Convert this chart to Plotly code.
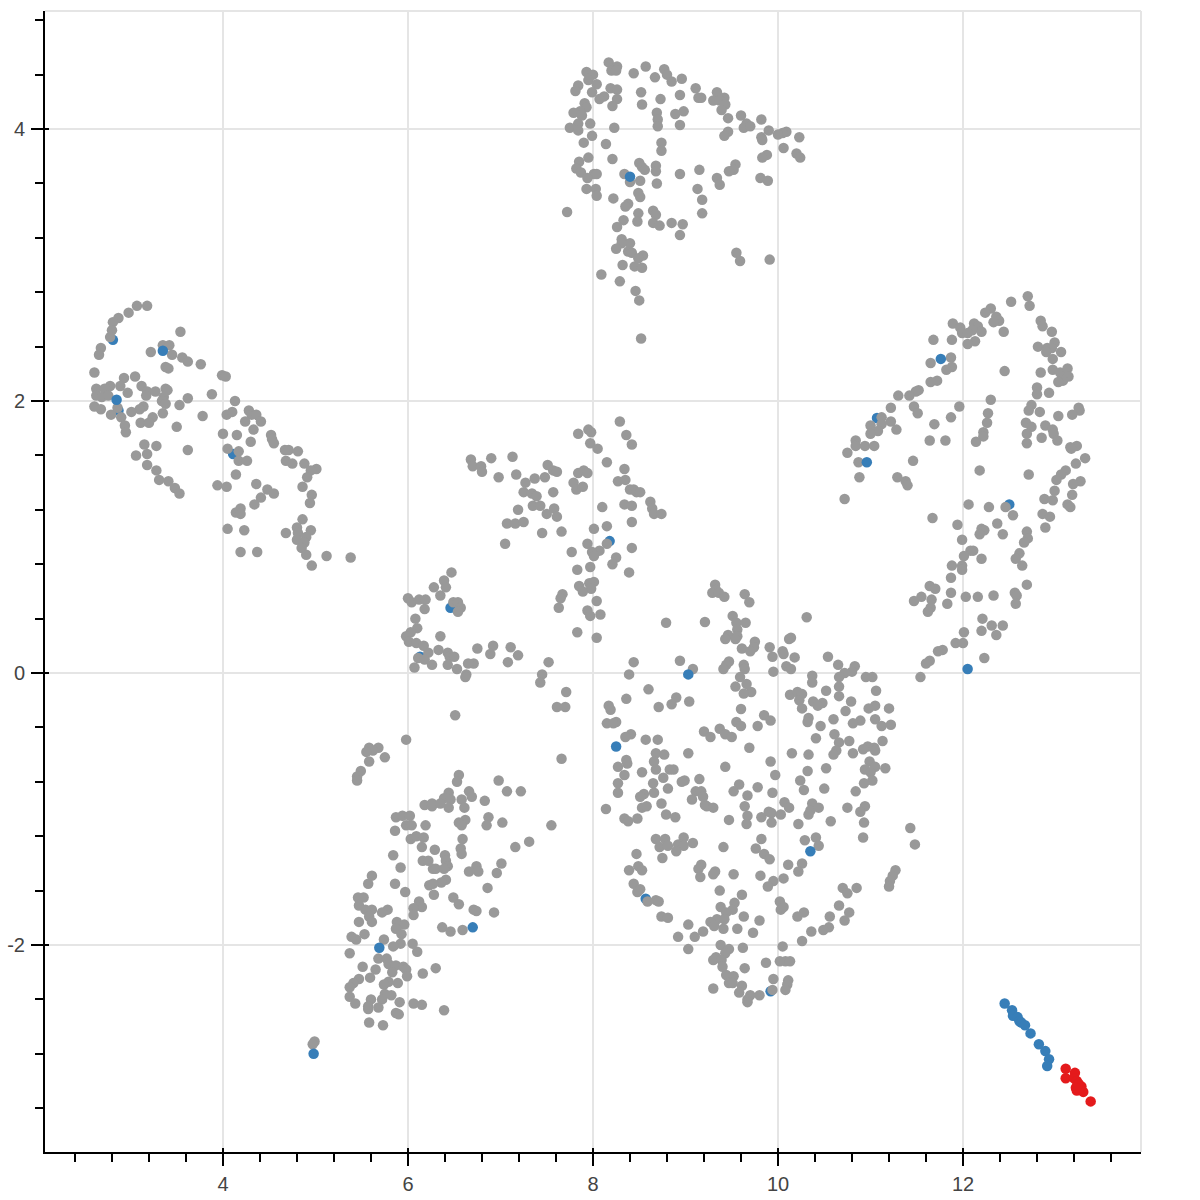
import plotly.graph_objects as go

# grey points per cluster, (x, y)
upper_left = [
    (3.07,2.70),(3.18,2.70),(2.98,2.65),(2.87,2.61),(2.81,2.58),(2.80,2.52),(2.78,2.47),(2.68,2.39),(2.66,2.34),(2.61,2.21),
    (3.54,2.51),(3.35,2.41),(3.42,2.41),(3.22,2.36),(3.45,2.34),(3.56,2.32),(3.62,2.29),(3.76,2.27),(3.38,2.25),(3.41,2.24),
    (3.99,2.19),(4.03,2.18),(3.05,2.18),(2.93,2.17),(2.78,2.11),(2.89,2.11),(2.63,2.09),(2.72,2.09),(3.12,2.11),(3.18,2.07),
    (2.97,2.06),(3.27,2.07),(3.38,2.09),(3.40,2.08),(2.63,2.04),(2.69,2.03),(2.76,2.04),(3.17,2.04),(3.36,2.03),(3.88,2.05),
    (3.62,2.02),(4.13,2.00),(3.34,2.00),(3.38,1.98),(3.53,1.97),(2.61,1.96),(2.68,1.94),(2.86,1.95),(3.14,1.96),(3.10,1.94),
    (3.01,1.92),(3.35,1.91),(2.79,1.90),(2.90,1.88),(3.24,1.88),(3.78,1.89),(4.04,1.90),(4.10,1.92),(4.28,1.93),(4.31,1.90),
    (4.36,1.90),(4.41,1.85),(4.24,1.85),(3.11,1.84),(3.20,1.84),(2.94,1.82),(3.50,1.81),(4.33,1.79),(2.95,1.77),(4.00,1.76),
    (4.15,1.75),(4.52,1.75),(4.53,1.72),(4.55,1.69),(4.30,1.70),(3.15,1.68),(3.28,1.67),(3.62,1.64),(4.05,1.65),(4.17,1.63),
    (4.67,1.64),(4.71,1.64),(4.81,1.63),(3.06,1.60),(3.18,1.61),(4.17,1.56),(4.26,1.56),(4.68,1.56),(4.75,1.54),(4.88,1.54),
    (5.01,1.50),(4.95,1.49),(3.18,1.53),(3.28,1.49),(4.14,1.46),(4.91,1.44),(3.31,1.42),(3.41,1.41),(3.48,1.36),(3.53,1.32),
    (3.94,1.38),(4.04,1.37),(4.36,1.39),(4.48,1.35),(4.55,1.32),(4.86,1.37),(4.96,1.31),(4.94,1.25),(4.41,1.29),(4.34,1.24),
    (4.19,1.21),(4.14,1.18),(4.19,1.17),(4.86,1.13),(4.80,1.07),(4.68,1.03),(4.95,1.05),(4.81,1.03),(4.05,1.06),(4.23,1.05),
    (4.90,1.00),(4.80,0.98),(4.88,0.96),(4.85,0.92),(4.19,0.89),(4.37,0.89),(4.90,0.87),(5.12,0.86),(5.38,0.85),(4.96,0.79),
]
top_cluster = [
    (8.17,4.49),(8.26,4.46),(8.20,4.43),(8.25,4.43),(7.93,4.42),(8.00,4.40),(7.95,4.36),(8.44,4.41),(8.57,4.46),(8.67,4.38),
    (8.77,4.44),(8.80,4.40),(8.85,4.35),(8.96,4.37),(7.84,4.32),(7.81,4.28),(8.04,4.33),(7.99,4.27),(8.19,4.30),(8.26,4.29),
    (8.52,4.27),(8.94,4.25),(9.11,4.30),(9.14,4.23),(9.17,4.23),(9.34,4.27),(9.42,4.23),(9.30,4.21),(9.37,4.21),(8.12,4.24),
    (8.07,4.22),(8.26,4.22),(8.73,4.22),(7.91,4.19),(7.93,4.16),(8.21,4.17),(8.53,4.18),(9.43,4.18),(9.39,4.14),(7.86,4.13),
    (7.79,4.12),(7.88,4.10),(8.69,4.12),(8.89,4.11),(8.98,4.13),(9.60,4.10),(9.46,4.08),(9.82,4.07),(8.70,4.07),(7.97,4.04),
    (7.84,4.04),(7.75,4.01),(7.84,3.99),(8.23,4.01),(8.70,4.02),(8.94,4.03),(9.66,4.04),(9.63,4.01),(9.70,4.02),(9.90,3.99),
    (9.46,3.98),(9.42,3.95),(10.09,3.98),(10.05,3.97),(10.00,3.96),(10.23,3.94),(9.82,3.94),(9.83,3.92),(7.99,3.95),(7.90,3.90),
    (8.14,3.89),(8.74,3.90),(8.74,3.84),(10.06,3.86),(10.20,3.82),(10.24,3.79),(9.88,3.81),(9.83,3.79),(7.95,3.79),(8.21,3.78),
    (7.85,3.76),(8.50,3.75),(8.53,3.72),(8.56,3.70),(8.68,3.73),(8.68,3.69),(9.54,3.74),(9.52,3.70),(9.47,3.69),(9.15,3.70),
    (8.94,3.67),(7.82,3.71),(7.87,3.68),(8.01,3.67),(8.04,3.67),(7.94,3.64),(8.34,3.67),(8.40,3.61),(8.51,3.62),(8.69,3.60),
    (9.34,3.64),(9.37,3.59),(9.81,3.64),(9.89,3.62),(9.13,3.56),(7.93,3.56),(8.03,3.56),(8.04,3.51),(8.49,3.53),(8.51,3.50),
    (8.22,3.49),(9.18,3.48),(8.38,3.45),(8.35,3.43),(7.72,3.39),(8.65,3.40),(8.68,3.37),(8.49,3.38),(9.18,3.38),(8.33,3.33),
    (8.48,3.32),(8.65,3.31),(8.72,3.29),(8.85,3.31),(8.97,3.30),(8.26,3.28),(8.94,3.22),(8.31,3.19),(8.40,3.16),(8.31,3.16),
    (8.25,3.12),(8.38,3.10),(8.42,3.09),(8.54,3.07),(8.49,3.05),(9.55,3.09),(9.59,3.03),(9.91,3.04),(8.32,3.00),(8.45,2.99),
    (8.53,2.98),(8.09,2.93),(8.29,2.88),(8.46,2.81),(8.50,2.74),(8.52,2.46),
]
right_arc = [
    (12.70,2.77),(12.72,2.70),(12.52,2.73),(12.30,2.68),(12.24,2.65),(12.36,2.62),(12.39,2.59),(12.33,2.58),(12.84,2.59),(12.86,2.55),
    (11.89,2.57),(11.97,2.54),(12.12,2.57),(12.16,2.55),(12.10,2.52),(12.20,2.51),(12.44,2.51),(12.96,2.51),(11.99,2.50),(12.05,2.50),
    (11.68,2.45),(11.88,2.45),(12.13,2.44),(12.05,2.42),(12.99,2.43),(12.81,2.40),(12.91,2.39),(12.96,2.39),(13.06,2.36),(12.90,2.36),
    (12.97,2.31),(11.87,2.32),(11.65,2.28),(11.88,2.25),(11.82,2.23),(12.45,2.22),(12.84,2.21),(12.97,2.23),(13.05,2.21),(13.13,2.24),
    (13.14,2.18),(13.08,2.15),(13.03,2.14),(11.72,2.15),(11.65,2.14),(12.80,2.10),(12.80,2.05),(12.93,2.06),(11.52,2.08),(11.49,2.07),
    (11.42,2.04),(11.30,2.04),(12.30,2.01),(12.74,1.97),(12.71,1.93),(12.83,1.92),(13.25,1.95),(13.26,1.93),(13.18,1.90),(13.03,1.89),
    (11.47,1.96),(11.51,1.91),(11.22,1.95),(11.96,1.96),(12.27,1.91),(11.87,1.88),(12.26,1.84),(12.68,1.84),(12.89,1.82),(12.74,1.81),
    (11.69,1.83),(11.12,1.88),(11.22,1.85),(11.00,1.82),(11.12,1.83),(12.97,1.79),(11.28,1.79),(11.08,1.78),(11.00,1.76),(12.22,1.77),
    (12.69,1.76),(12.98,1.76),(12.85,1.73),(12.22,1.74),(10.84,1.71),(13.02,1.71),(11.64,1.71),(11.81,1.71),(12.14,1.70),(12.69,1.69),
    (10.84,1.67),(10.94,1.67),(11.04,1.67),(13.23,1.67),(13.16,1.66),(13.17,1.65),(10.75,1.62),(10.87,1.55),(11.46,1.56),(13.32,1.58),
    (13.22,1.54),(10.88,1.44),(11.29,1.44),(11.38,1.41),(11.40,1.38),(12.18,1.49),(12.71,1.46),(13.11,1.49),(13.06,1.46),(13.01,1.42),
    (13.27,1.41),(13.19,1.39),(12.99,1.34),(13.18,1.31),(10.72,1.28),(12.88,1.28),(12.97,1.27),
    (12.06,1.24),(12.28,1.22),(12.46,1.22),(12.54,1.16),(11.67,1.14),(11.94,1.09),(12.37,1.10),(12.86,1.17),(12.94,1.15),(12.89,1.07),
    (13.13,1.24),(13.16,1.22),(12.20,1.06),(12.23,1.05),(12.18,1.02),(12.43,1.02),(12.69,1.04),(12.70,0.99),(12.66,0.96),(11.99,0.98),
    (12.61,0.88),(12.57,0.84),(12.08,0.90),(12.11,0.90),(12.01,0.86),(12.20,0.84),(11.99,0.79),(11.99,0.76),(11.88,0.79),(12.64,0.79),
    (11.87,0.70),(12.69,0.65),(11.64,0.64),(11.70,0.62),(11.87,0.59),(12.56,0.59),(12.58,0.57),(11.55,0.56),(12.03,0.56),(12.16,0.56),
    (12.33,0.57),(11.66,0.54),(11.47,0.53),(11.83,0.51),(12.57,0.51),(11.65,0.48),(11.62,0.45),(12.21,0.40),(12.31,0.35),(12.43,0.35),
    (12.20,0.31),(12.01,0.30),(12.36,0.28),(11.92,0.22),(12.00,0.22),(11.78,0.17),(11.73,0.16),(12.23,0.11),(11.64,0.09),(11.60,0.07),
    (11.54,-0.03),
]
middle = [
    (8.29,1.85),(7.84,1.76),(7.95,1.79),(7.98,1.77),(8.36,1.75),(8.42,1.68),(7.97,1.69),(8.05,1.65),(8.15,1.55),(6.68,1.57),
    (6.70,1.52),(6.90,1.58),(7.13,1.59),(6.79,1.52),(6.80,1.48),(7.51,1.53),(7.57,1.49),(7.61,1.48),(6.98,1.44),(7.17,1.46),
    (7.37,1.43),(7.48,1.44),(7.84,1.47),(7.90,1.49),(7.94,1.47),(8.34,1.50),(8.27,1.41),(8.35,1.42),(7.27,1.40),(7.79,1.40),
    (8.40,1.35),(8.44,1.35),(8.47,1.33),(8.51,1.33),(7.82,1.35),(7.89,1.37),(7.25,1.33),(7.34,1.32),(7.39,1.30),(7.57,1.33),
    (8.62,1.26),(7.35,1.23),(7.43,1.23),(7.58,1.21),(8.10,1.22),(8.34,1.24),(8.42,1.23),(8.64,1.21),(8.66,1.17),(8.74,1.17),
    (7.19,1.20),(7.50,1.17),(7.61,1.15),(7.07,1.10),(7.16,1.10),(7.25,1.11),(8.42,1.11),(8.15,1.08),(8.01,1.06),(7.45,1.03),
    (7.66,1.04),(7.05,0.95),(7.94,0.95),(8.15,0.95),(8.42,0.92),(8.07,0.90),(7.77,0.89),(7.99,0.89),(8.01,0.86),(8.25,0.85),
    (8.21,0.80),(7.97,0.78),(7.83,0.76),(8.39,0.74),(6.47,0.74),(6.39,0.68),(8.01,0.67),(7.96,0.66),(6.28,0.63),(6.41,0.63),
    (7.85,0.64),(7.98,0.62),(7.89,0.60),(7.67,0.58),(7.65,0.55),(6.35,0.57),(6.00,0.55),(6.04,0.52),(6.12,0.54),(6.19,0.54),
    (8.04,0.53),(6.49,0.52),(6.54,0.52),(6.57,0.48),(6.54,0.45),(6.18,0.47),(7.63,0.48),(7.94,0.46),(7.97,0.42),(8.08,0.43),
    (6.08,0.40),(8.79,0.37),(6.10,0.33),(6.03,0.30),(7.83,0.30),(5.98,0.27),(6.35,0.27),(8.04,0.26),(6.01,0.23),(6.09,0.22),
    (6.17,0.20),(6.22,0.15),(6.75,0.18),(6.92,0.20),(7.11,0.19),(6.33,0.17),(6.43,0.15),(6.89,0.14),(7.19,0.13),(6.11,0.11),
    (6.18,0.10),(6.45,0.12),(6.50,0.12),(7.52,0.08),(7.08,0.08),(6.71,0.07),(6.65,0.07),(8.44,0.08),(8.94,0.09),(6.07,0.04),
    (6.26,0.06),(6.43,0.06),(6.53,0.03),(7.45,-0.01),(8.39,-0.01),(6.63,-0.01),(6.62,-0.03),(7.43,-0.07),(7.71,-0.14),(8.60,-0.12),
    (8.36,-0.19),(8.90,-0.18),(8.85,-0.23),(8.71,-0.25),(8.17,-0.24),(7.61,-0.25),(7.70,-0.25),(9.04,-0.21),(6.51,-0.31),(7.66,-0.63),
]
lower_centre = [
    (9.32,0.65),(9.33,0.61),(9.29,0.59),(9.36,0.59),(9.42,0.56),(9.64,0.58),(9.69,0.52),(9.51,0.42),(9.55,0.37),(9.65,0.37),
    (9.21,0.375),(10.31,0.41),(9.56,0.32),(9.46,0.28),(9.56,0.27),(9.43,0.25),(9.54,0.25),(9.75,0.23),(10.12,0.25),(10.14,0.26),
    (9.91,0.19),(9.61,0.18),(9.74,0.19),(9.70,0.16),(10.05,0.16),(10.06,0.14),(9.94,0.12),(10.18,0.115),(10.54,0.12),(10.65,0.06),
    (9.47,0.085),(9.44,0.06),(9.41,0.03),(9.63,0.06),(9.64,0.03),(10.09,0.05),(10.14,0.03),(10.83,0.05),(9.08,0.03),(9.95,0.01),
    (10.80,0.01),(10.72,0.00),(10.66,-0.03),(10.37,-0.02),(10.95,-0.03),(11.02,-0.03),(9.59,-0.03),(9.66,-0.08),(10.37,-0.07),(9.54,-0.10),
    (10.66,-0.10),(10.52,-0.13),(11.06,-0.13),(9.71,-0.14),(9.63,-0.15),(10.13,-0.16),(10.21,-0.14),(10.26,-0.155),(10.66,-0.17),(10.23,-0.20),
    (10.79,-0.21),(10.38,-0.21),(10.48,-0.22),(10.43,-0.24),(8.19,-0.27),(9.60,-0.265),(10.26,-0.26),(11.05,-0.24),(10.98,-0.26),(11.20,-0.26),
    (10.73,-0.28),(9.85,-0.31),(10.33,-0.33),(10.60,-0.34),(11.05,-0.34),(8.25,-0.36),(8.15,-0.37),(8.22,-0.37),(9.92,-0.35),(10.32,-0.36),
    (9.55,-0.36),(9.60,-0.39),(9.78,-0.39),(10.46,-0.39),(10.89,-0.35),(10.81,-0.37),(11.12,-0.39),(11.22,-0.38),(9.37,-0.41),(9.20,-0.43),
    (9.27,-0.47),(9.43,-0.45),(9.50,-0.47),(8.41,-0.45),(8.35,-0.47),(10.61,-0.45),(10.41,-0.48),(8.57,-0.49),(8.70,-0.49),(10.66,-0.51),
    (10.77,-0.50),(11.13,-0.50),(9.69,-0.55),(10.97,-0.54),(10.92,-0.56),(11.04,-0.55),(11.05,-0.57),(10.63,-0.57),(10.60,-0.60),(10.81,-0.59),
    (8.68,-0.59),(8.77,-0.60),(9.03,-0.59),(10.15,-0.59),(10.33,-0.60),(8.36,-0.64),(8.66,-0.65),(9.92,-0.65),(10.99,-0.65),(8.37,-0.665),
    (8.27,-0.69),(8.68,-0.71),(8.83,-0.71),(8.87,-0.71),(9.43,-0.69),(10.52,-0.70),(11.05,-0.69),(11.16,-0.70),(10.94,-0.71),(10.32,-0.72),
    (11.00,-0.73),(8.34,-0.75),(8.53,-0.73),(9.97,-0.75),(8.76,-0.77),(9.15,-0.78),(8.99,-0.79),(8.96,-0.80),(10.24,-0.79),(11.02,-0.79),
    (10.93,-0.81),(8.27,-0.81),(8.65,-0.81),(9.58,-0.82),(9.78,-0.84),(8.81,-0.85),(10.28,-0.86),(10.50,-0.85),(10.84,-0.87),(8.27,-0.88),
    (8.66,-0.88),(9.11,-0.87),(9.17,-0.87),(9.52,-0.87),(9.94,-0.88),(9.67,-0.90),(8.55,-0.89),(8.51,-0.91),(9.19,-0.91),(9.07,-0.93),
    (8.14,-1.00),(8.53,-0.99),(8.58,-0.98),(8.74,-0.96),(9.21,-0.97),(9.23,-0.98),(9.30,-0.99),(9.64,-0.98),(10.07,-0.95),(10.12,-0.99),
    (10.37,-0.96),(10.35,-1.01),(10.44,-0.99),(10.75,-0.99),(10.94,-0.98),(10.89,-1.02),(8.34,-1.07),(8.38,-1.09),(8.48,-1.07),(8.79,-1.04),
    (8.89,-1.06),(9.67,-1.05),(9.47,-1.08),(9.82,-1.06),(9.90,-1.02),(9.93,-1.03),(10.03,-1.04),(10.33,-1.04),(9.93,-1.10),(10.22,-1.11),
    (10.57,-1.09),(10.93,-1.10),(9.66,-1.11),(11.43,-1.14),(11.48,-1.26),(8.98,-1.21),(8.68,-1.22),(8.78,-1.22),(9.08,-1.25),(9.82,-1.22),
    (10.41,-1.21),(10.29,-1.23),(10.92,-1.21),(8.72,-1.28),(8.81,-1.27),(8.92,-1.26),(8.98,-1.27),(8.90,-1.31),(9.41,-1.28),(10.44,-1.27),
    (9.76,-1.29),(9.85,-1.33),(8.47,-1.33),(8.75,-1.36),(9.91,-1.37),(9.17,-1.41),(10.11,-1.41),(10.26,-1.40),(8.49,-1.42),(8.53,-1.45),
    (9.14,-1.44),(8.39,-1.45),(9.32,-1.46),(9.30,-1.48),(10.22,-1.46),(11.27,-1.45),(9.52,-1.48),(9.81,-1.49),(9.16,-1.50),(11.24,-1.49),
    (10.06,-1.51),(9.95,-1.53),(11.21,-1.53),(9.89,-1.57),(11.20,-1.57),(8.44,-1.55),(8.51,-1.59),(10.70,-1.58),(10.85,-1.58),(9.37,-1.60),
    (8.48,-1.61),(10.75,-1.62),(9.61,-1.63),(8.59,-1.68),(8.68,-1.67),(8.71,-1.68),(9.53,-1.69),(10.02,-1.68),(10.66,-1.71),(9.38,-1.72),
    (10.03,-1.74),(10.06,-1.72),(9.51,-1.74),(10.28,-1.76),(10.77,-1.76),(9.44,-1.76),(10.21,-1.79),(10.56,-1.79),(9.63,-1.79),(8.74,-1.79),
    (8.81,-1.80),(9.34,-1.81),(9.42,-1.81),(9.27,-1.83),(10.72,-1.82),(9.80,-1.82),(9.03,-1.85),(9.31,-1.86),(9.41,-1.88),(9.56,-1.88),
    (10.55,-1.87),(10.49,-1.89),(10.36,-1.90),(9.19,-1.90),(9.73,-1.91),(9.10,-1.94),(8.92,-1.94),(10.26,-1.97),(9.38,-2.00),(10.05,-2.01),
    (9.62,-2.02),(9.03,-2.03),(9.47,-2.03),(9.43,-2.06),(9.33,-2.09),(9.30,-2.11),(9.39,-2.11),(9.87,-2.13),(10.02,-2.12),(10.08,-2.12),
    (10.13,-2.12),(9.40,-2.16),(9.64,-2.17),(9.44,-2.22),(9.52,-2.23),(9.95,-2.25),(10.11,-2.26),(9.47,-2.28),(9.51,-2.28),(10.10,-2.29),
    (9.61,-2.30),(9.30,-2.32),(10.08,-2.33),(9.94,-2.33),(9.58,-2.35),(9.70,-2.37),(9.80,-2.37),(9.67,-2.40),(9.67,-2.42),
]
lower_left = [
    (5.98,-0.49),(5.68,-0.55),(5.58,-0.55),(5.62,-0.57),(5.55,-0.58),(5.75,-0.62),(5.58,-0.65),(5.49,-0.72),(5.45,-0.76),(5.45,-0.79),
    (6.55,-0.75),(6.53,-0.80),(6.98,-0.79),(7.07,-0.87),(7.22,-0.87),(6.66,-0.87),(6.69,-0.91),(6.44,-0.88),(6.39,-0.92),(6.46,-0.93),
    (6.58,-0.93),(6.83,-0.94),(6.18,-0.97),(6.26,-0.98),(6.26,-0.96),(6.35,-0.96),(6.44,-0.99),(6.61,-0.99),(5.87,-1.06),(5.94,-1.05),
    (6.02,-1.05),(6.87,-1.06),(6.62,-1.08),(6.55,-1.10),(6.58,-1.12),(6.85,-1.12),(7.02,-1.10),(7.55,-1.12),(5.98,-1.12),(6.04,-1.12),
    (6.19,-1.12),(5.86,-1.16),(6.03,-1.22),(6.09,-1.20),(6.17,-1.21),(6.59,-1.22),(7.31,-1.24),(6.15,-1.28),(6.29,-1.30),(6.57,-1.29),
    (7.16,-1.28),(6.58,-1.33),(5.84,-1.34),(6.40,-1.34),(6.16,-1.38),(6.22,-1.38),(6.41,-1.38),(7.01,-1.40),(5.92,-1.43),(6.43,-1.42),
    (6.27,-1.44),(6.30,-1.44),(6.39,-1.44),(6.74,-1.42),(6.66,-1.46),(6.76,-1.46),(6.96,-1.47),(5.61,-1.49),(6.41,-1.52),(6.36,-1.54),
    (5.86,-1.55),(5.57,-1.55),(6.27,-1.55),(6.23,-1.56),(6.86,-1.58),(5.97,-1.61),(6.28,-1.63),(6.49,-1.65),(5.46,-1.65),(5.52,-1.65),
    (6.12,-1.68),(6.55,-1.70),(5.47,-1.71),(6.15,-1.72),(5.61,-1.74),(5.54,-1.74),(6.06,-1.73),(6.71,-1.74),(6.74,-1.75),(6.93,-1.76),
    (5.78,-1.74),(5.72,-1.76),(5.58,-1.79),(6.06,-1.78),(5.61,-1.83),(5.47,-1.83),(5.88,-1.83),(5.96,-1.85),(5.87,-1.88),(6.37,-1.87),
    (6.46,-1.90),(6.59,-1.89),(5.93,-1.92),(5.53,-1.92),(5.39,-1.94),(5.44,-1.96),(5.74,-1.96),(5.92,-1.99),(5.84,-2.01),(6.05,-1.99),
    (6.10,-2.05),(5.37,-2.06),(5.68,-2.10),(5.77,-2.10),(5.79,-2.14),(5.87,-2.15),(5.95,-2.16),(5.51,-2.16),(5.65,-2.18),(6.30,-2.17),
    (5.83,-2.20),(5.98,-2.18),(6.16,-2.21),(5.99,-2.23),(5.47,-2.25),(5.59,-2.24),(5.41,-2.28),(5.37,-2.31),(5.79,-2.27),(5.74,-2.29),
    (5.89,-2.28),(5.75,-2.36),(5.82,-2.37),(5.37,-2.38),(5.60,-2.40),(5.72,-2.40),(5.43,-2.43),(5.91,-2.42),(6.06,-2.43),(6.15,-2.44),
    (5.57,-2.45),(5.68,-2.46),(5.57,-2.47),(6.39,-2.48),(5.87,-2.50),(5.90,-2.51),(5.58,-2.57),(5.73,-2.59),(4.99,-2.71),(4.97,-2.73),
]

# blue points partly hidden by grey ones, then the ones drawn on top
blue_under = [
    (2.81,2.45),(2.87,1.93),(4.11,1.61),(11.07,1.875),(12.50,1.24),(6.46,0.48),(6.13,0.12),(8.18,0.97),(8.57,-1.66),(9.92,-2.34),
]
blue_over = [
    (3.35,2.37),(2.85,2.01),(8.40,3.65),(11.76,2.31),(10.96,1.55),(12.05,0.03),(9.03,-0.01),(8.25,-0.54),(10.35,-1.31),
    (4.98,-2.80),(5.69,-2.02),(6.70,-1.87),
    (12.45,-2.43),(12.53,-2.48),(12.54,-2.52),(12.59,-2.53),(12.61,-2.56),(12.63,-2.57),(12.67,-2.59),(12.73,-2.65),(12.82,-2.73),
    (12.89,-2.78),(12.93,-2.84),(12.91,-2.89),
]
red_points = [
    (13.11,-2.91),(13.11,-2.98),(13.21,-2.94),(13.20,-2.98),(13.23,-3.00),(13.28,-3.04),(13.23,-3.07),(13.30,-3.08),(13.26,-3.05),
    (13.38,-3.15),(13.25,-3.02),(13.22,-3.05),
]

x_ticks = [4, 6, 8, 10, 12]
x_labels = ["4", "6", "8", "10", "12"]
y_ticks = [-2, 0, 2, 4]
y_labels = ["-2", "0", "2", "4"]
x_range = [2.076, 13.924]
y_range = [-3.522, 4.868]

GREY = "#999999"
BLUE = "#377eb8"
RED = "#e41a1c"
GRID = "#e5e5e5"


def scatter(points, color):
    xs, ys = zip(*points)
    return go.Scatter(x=xs, y=ys, mode="markers", showlegend=False, hoverinfo="skip",
                      marker=dict(color=color, size=10.5, line=dict(width=0)))


fig = go.Figure()
fig.add_trace(scatter(blue_under, BLUE))
fig.add_trace(scatter(upper_left + top_cluster + right_arc + middle + lower_centre + lower_left, GREY))
fig.add_trace(scatter(blue_over, BLUE))
fig.add_trace(scatter(red_points, RED))
# empty trace so the overlay axes with the short inside ticks get drawn
fig.add_trace(go.Scatter(x=[None], y=[None], xaxis="x2", yaxis="y2", showlegend=False))

tick_font = dict(family="Liberation Sans, Arial, sans-serif", size=20, color="#444444")

fig.update_layout(
    width=1200, height=1200, autosize=False,
    margin=dict(l=45, r=59, t=11, b=48),
    paper_bgcolor="white", plot_bgcolor="white",
    xaxis=dict(range=x_range, tickvals=x_ticks, ticktext=x_labels, tickfont=tick_font,
               automargin=False, ticklabelstandoff=1,
               showgrid=True, gridcolor=GRID, gridwidth=2, zeroline=False,
               showline=True, linecolor="black", linewidth=2, layer="below traces",
               ticks="outside", ticklen=12, tickwidth=2, tickcolor="black",
               minor=dict(dtick=0.4, tick0=0, ticks="outside", ticklen=8, tickwidth=2,
                          tickcolor="black", showgrid=False)),
    yaxis=dict(range=y_range, tickvals=y_ticks, ticktext=y_labels, tickfont=tick_font,
               automargin=False, ticklabelstandoff=2,
               showgrid=True, gridcolor=GRID, gridwidth=2, zeroline=False,
               showline=True, linecolor="black", linewidth=2, layer="below traces",
               ticks="outside", ticklen=12, tickwidth=2, tickcolor="black",
               minor=dict(dtick=0.4, tick0=0, ticks="outside", ticklen=8, tickwidth=2,
                          tickcolor="black", showgrid=False)),
    xaxis2=dict(range=x_range, overlaying="x", anchor="y2", tickvals=x_ticks, showticklabels=False,
                automargin=False, showgrid=False, zeroline=False,
                ticks="inside", ticklen=4, tickwidth=2, tickcolor="black"),
    yaxis2=dict(range=y_range, overlaying="y", anchor="x2", tickvals=y_ticks, showticklabels=False,
                automargin=False, showgrid=False, zeroline=False,
                ticks="inside", ticklen=4, tickwidth=2, tickcolor="black"),
    shapes=[
        dict(type="line", xref="paper", yref="paper", x0=0, x1=1, y0=1, y1=1, line=dict(color=GRID, width=2)),
        dict(type="line", xref="paper", yref="paper", x0=1, x1=1, y0=0, y1=1, line=dict(color=GRID, width=2)),
    ],
)

# drop the page's default body margin so the figure fills the window
fig.write_html("out.html", config={"displayModeBar": False},
               post_script="document.body.style.margin = '0';")
